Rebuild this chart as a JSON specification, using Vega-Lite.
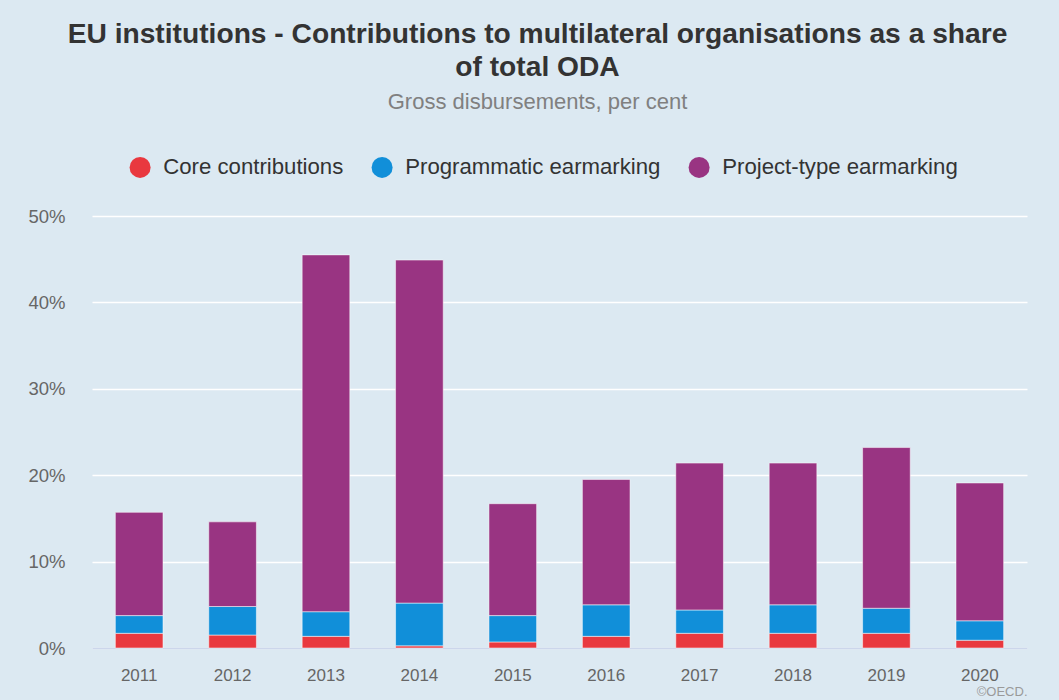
{
  "$schema": "https://vega.github.io/schema/vega-lite/v6.json",
  "width": 935,
  "height": 432,
  "autosize": {"type": "none"},
  "padding": {"left": 92, "top": 216, "right": 32, "bottom": 52},
  "background": "#dce9f2",
  "config": {
    "font": "Liberation Sans",
    "view": {"stroke": null}
  },
  "title": {
    "text": ["EU institutions - Contributions to multilateral organisations as a share", "of total ODA"],
    "subtitle": "Gross disbursements, per cent",
    "anchor": "middle",
    "dx": -22,
    "fontSize": 28.2,
    "fontWeight": "bold",
    "color": "#333333",
    "lineHeight": 33,
    "subtitleFontSize": 22,
    "subtitleColor": "#808080",
    "subtitlePadding": 10,
    "offset": 42
  },
  "data": {
    "values": [
      {"year": "2011", "type": "Core contributions", "value": 1.7},
      {"year": "2011", "type": "Programmatic earmarking", "value": 2.05},
      {"year": "2011", "type": "Project-type earmarking", "value": 11.95},
      {"year": "2012", "type": "Core contributions", "value": 1.5},
      {"year": "2012", "type": "Programmatic earmarking", "value": 3.3},
      {"year": "2012", "type": "Project-type earmarking", "value": 9.8},
      {"year": "2013", "type": "Core contributions", "value": 1.35},
      {"year": "2013", "type": "Programmatic earmarking", "value": 2.85},
      {"year": "2013", "type": "Project-type earmarking", "value": 41.3},
      {"year": "2014", "type": "Core contributions", "value": 0.25},
      {"year": "2014", "type": "Programmatic earmarking", "value": 4.95},
      {"year": "2014", "type": "Project-type earmarking", "value": 39.7},
      {"year": "2015", "type": "Core contributions", "value": 0.7},
      {"year": "2015", "type": "Programmatic earmarking", "value": 3.05},
      {"year": "2015", "type": "Project-type earmarking", "value": 12.95},
      {"year": "2016", "type": "Core contributions", "value": 1.35},
      {"year": "2016", "type": "Programmatic earmarking", "value": 3.65},
      {"year": "2016", "type": "Project-type earmarking", "value": 14.5},
      {"year": "2017", "type": "Core contributions", "value": 1.7},
      {"year": "2017", "type": "Programmatic earmarking", "value": 2.7},
      {"year": "2017", "type": "Project-type earmarking", "value": 17.0},
      {"year": "2018", "type": "Core contributions", "value": 1.7},
      {"year": "2018", "type": "Programmatic earmarking", "value": 3.3},
      {"year": "2018", "type": "Project-type earmarking", "value": 16.4},
      {"year": "2019", "type": "Core contributions", "value": 1.7},
      {"year": "2019", "type": "Programmatic earmarking", "value": 2.9},
      {"year": "2019", "type": "Project-type earmarking", "value": 18.6},
      {"year": "2020", "type": "Core contributions", "value": 0.9},
      {"year": "2020", "type": "Programmatic earmarking", "value": 2.25},
      {"year": "2020", "type": "Project-type earmarking", "value": 15.95}
    ]
  },
  "mark": {"type": "bar", "stroke": "#ffffff", "strokeWidth": 1, "strokeOpacity": 0.5},
  "encoding": {
    "x": {
      "field": "year",
      "type": "nominal",
      "scale": {"paddingInner": 0.49, "paddingOuter": 0.25},
      "axis": {
        "title": "©OECD.",
        "titleAnchor": "end",
        "titleAlign": "right",
        "titleFontSize": 13,
        "titleFontWeight": "normal",
        "titleColor": "#9a9a9a",
        "titlePadding": 2,
        "labelAngle": 0,
        "labelFontSize": 17,
        "labelColor": "#666666",
        "labelPadding": 19,
        "ticks": false,
        "domainColor": "#ccd6eb",
        "domainWidth": 1.5
      }
    },
    "y": {
      "field": "value",
      "type": "quantitative",
      "stack": "zero",
      "scale": {"domain": [0, 50]},
      "axis": {
        "title": null,
        "values": [0, 10, 20, 30, 40, 50],
        "labelExpr": "datum.value + '%'",
        "labelFontSize": 18.5,
        "labelColor": "#666666",
        "labelPadding": 27,
        "ticks": false,
        "domain": false,
        "gridColor": "#ffffff",
        "gridWidth": 1.5
      }
    },
    "color": {
      "field": "type",
      "type": "nominal",
      "scale": {
        "domain": ["Core contributions", "Programmatic earmarking", "Project-type earmarking"],
        "range": ["#e9383f", "#118fd9", "#993482"]
      },
      "legend": {
        "title": null,
        "orient": "none",
        "direction": "horizontal",
        "legendX": 37,
        "legendY": -60,
        "symbolType": "circle",
        "symbolSize": 441,
        "symbolStrokeWidth": 0,
        "labelFontSize": 22.2,
        "labelColor": "#333333",
        "labelOffset": 12,
        "labelLimit": 400,
        "columnPadding": 27
      }
    },
    "order": {"field": "type", "type": "nominal", "sort": "ascending"}
  }
}
